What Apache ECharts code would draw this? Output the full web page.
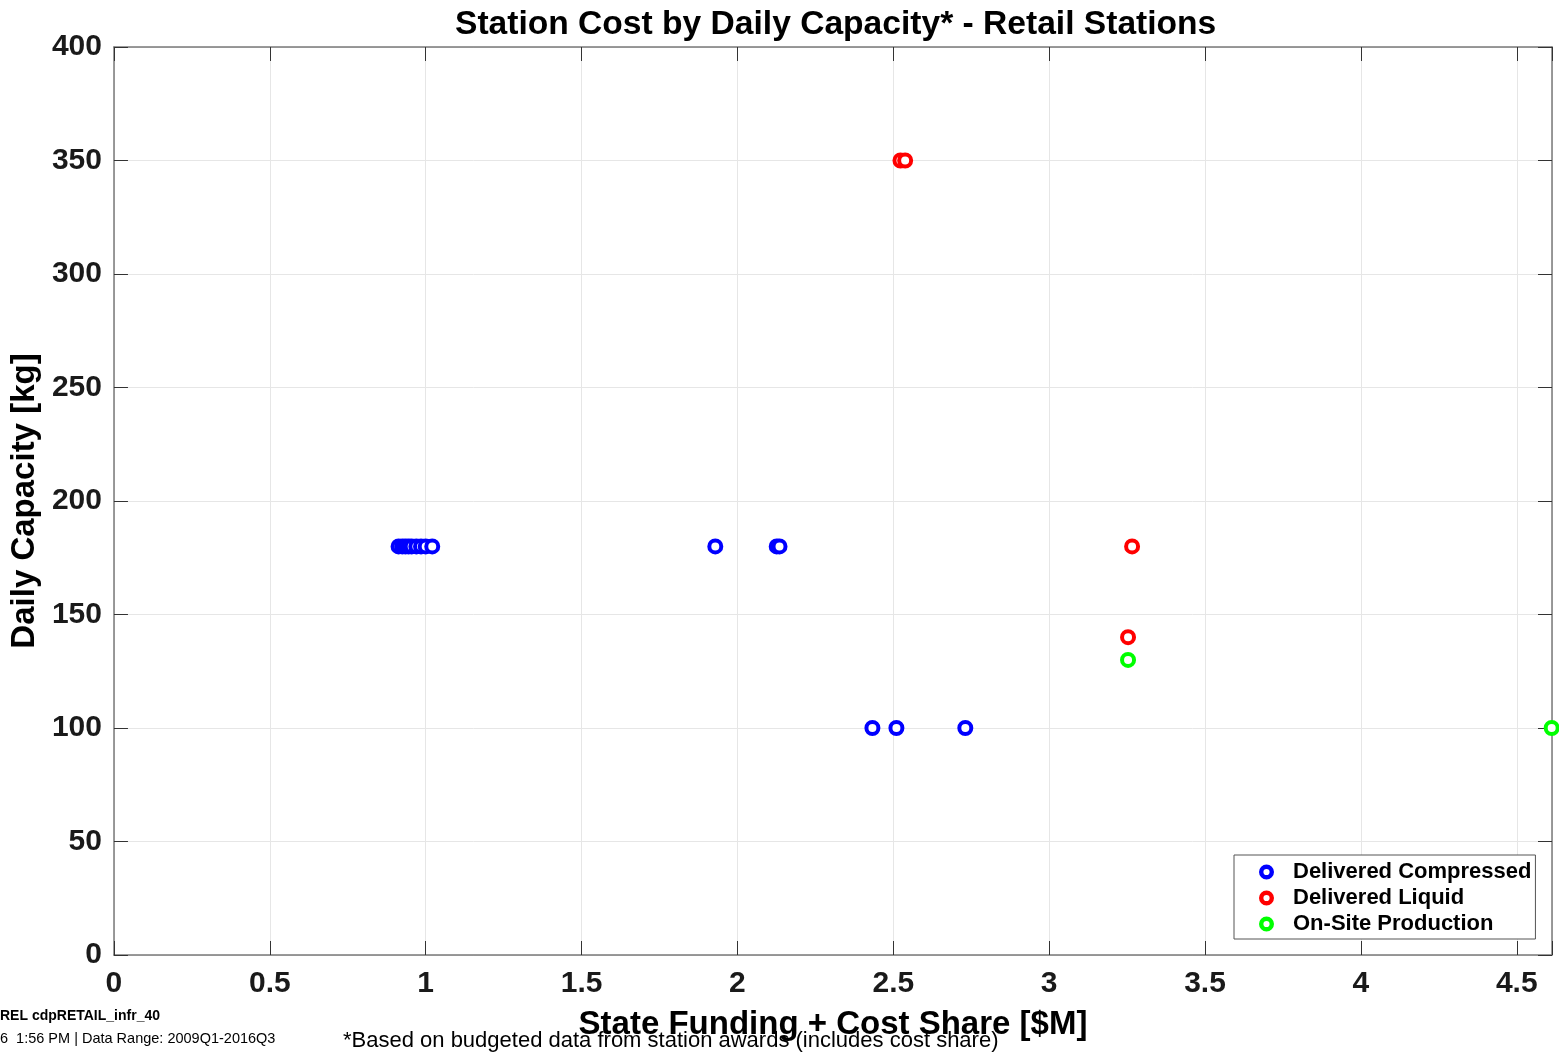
<!DOCTYPE html>
<html>
<head>
<meta charset="utf-8">
<script src="https://cdn.jsdelivr.net/npm/echarts@6/dist/echarts.min.js"></script>
<style>html,body{margin:0;padding:0;background:#fff}#c{width:1559px;height:1052px}</style>
</head>
<body>
<div id="c"></div>
<script>
const seriesNames = ['Delivered Compressed', 'Delivered Liquid', 'On-Site Production'];
const seriesColors = ['#0000ff', '#ff0000', '#00ff00'];
const compressedX = [0.913, 0.925, 0.935, 0.945, 0.955, 0.97, 0.985, 1.0, 1.021, 1.929, 2.126, 2.135, 2.433, 2.510, 2.731];
const compressedY = [180, 180, 180, 180, 180, 180, 180, 180, 180, 180, 180, 180, 100, 100, 100];
const liquidX = [2.523, 2.538, 3.266, 3.253];
const liquidY = [350, 350, 180, 140];
const onsiteX = [3.253, 4.612];
const onsiteY = [130, 100];
const xTicks = [0, 0.5, 1, 1.5, 2, 2.5, 3, 3.5, 4, 4.5];
const yTicks = [0, 50, 100, 150, 200, 250, 300, 350, 400];
const xMax = 4.613;

const pairs = (xs, ys) => xs.map((x, i) => [x, ys[i]]);
const allData = [pairs(compressedX, compressedY), pairs(liquidX, liquidY), pairs(onsiteX, onsiteY)];

const FONT = '"Liberation Sans", Arial, sans-serif';
const RING = 'path://M0,8 A8,8 0 1,1 16,8 A8,8 0 1,1 0,8 Z M4.7,8 A3.3,3.3 0 1,0 11.3,8 A3.3,3.3 0 1,0 4.7,8 Z';
const chart = echarts.init(document.getElementById('c'), null, {renderer: 'canvas'});

const fmtX = v => {
  const hit = xTicks.find(t => Math.abs(t - v) < 1e-6);
  return hit === undefined ? '' : String(hit);
};

chart.setOption({
  animation: false,
  backgroundColor: '#fff',
  title: {
    text: 'Station Cost by Daily Capacity* - Retail Stations',
    left: 450, top: 3,
    textStyle: {fontFamily: FONT, fontWeight: 'bold', fontSize: 33.6, color: '#000'}
  },
  grid: {left: 113, right: 7, top: 47, bottom: 97, containLabel: false},
  legend: {
    orient: 'vertical',
    left: 1234, top: 855,
    data: seriesNames.map((n, i) => ({name: n, icon: RING, itemStyle: {color: seriesColors[i], borderWidth: 0}})),
    itemWidth: 15, itemHeight: 15, itemGap: 0,
    padding: [4, 4, 2, 25],
    borderColor: '#555', borderWidth: 1, backgroundColor: '#fff',
    textStyle: {fontFamily: FONT, fontWeight: 'bold', fontSize: 22, color: '#000', lineHeight: 26, padding: [0, 0, 0, 14]}
  },
  xAxis: [{
    type: 'value', min: 0, max: xMax, interval: 0.5,
    name: 'State Funding + Cost Share [$M]', nameLocation: 'middle', nameGap: 53,
    nameTextStyle: {fontFamily: FONT, fontWeight: 'bold', fontSize: 33, color: '#000'},
    axisLine: {show: true, onZero: false, lineStyle: {color: '#7a7a7a', width: 1.5}},
    axisTick: {show: true, inside: true, length: 14, lineStyle: {color: '#333'}},
    axisLabel: {formatter: fmtX, margin: 14, fontFamily: FONT, fontWeight: 'bold', fontSize: 30, color: '#1a1a1a', showMaxLabel: true},
    splitLine: {show: true, lineStyle: {color: '#e6e6e6', width: 1}}
  }, {
    type: 'value', position: 'top', min: 0, max: xMax, interval: 0.5,
    axisLine: {show: true, onZero: false, lineStyle: {color: '#7a7a7a', width: 1.5}},
    axisTick: {show: true, inside: true, length: 14, lineStyle: {color: '#333'}},
    axisLabel: {show: false}, splitLine: {show: false}
  }],
  yAxis: [{
    type: 'value', min: 0, max: 400, interval: 50,
    name: 'Daily Capacity [kg]', nameLocation: 'middle', nameGap: 64, nameRotate: 90,
    nameTextStyle: {fontFamily: FONT, fontWeight: 'bold', fontSize: 33, color: '#000'},
    axisLine: {show: true, onZero: false, lineStyle: {color: '#7a7a7a', width: 1.5}},
    axisTick: {show: true, inside: true, length: 14, lineStyle: {color: '#333'}},
    axisLabel: {margin: 12, fontFamily: FONT, fontWeight: 'bold', fontSize: 30, color: '#1a1a1a'},
    splitLine: {show: true, lineStyle: {color: '#e6e6e6', width: 1}}
  }, {
    type: 'value', position: 'right', min: 0, max: 400, interval: 50,
    axisLine: {show: true, onZero: false, lineStyle: {color: '#7a7a7a', width: 1.5}},
    axisTick: {show: true, inside: true, length: 14, lineStyle: {color: '#333'}},
    axisLabel: {show: false}, splitLine: {show: false}
  }],
  series: seriesNames.map((n, i) => ({
    name: n, type: 'scatter', xAxisIndex: 0, yAxisIndex: 0,
    data: allData[i], symbol: 'circle', symbolSize: 12, clip: false,
    itemStyle: {color: '#fff', borderColor: seriesColors[i], borderWidth: 4, opacity: 1}
  })),
  graphic: [
    {type: 'text', left: 0, top: 1009, style: {text: 'REL cdpRETAIL_infr_40', font: 'bold 14px ' + FONT, fill: '#000'}},
    {type: 'text', left: 0, top: 1031, style: {text: '6  1:56 PM | Data Range: 2009Q1-2016Q3', font: '14.5px ' + FONT, fill: '#000'}},
    {type: 'text', left: 343, top: 1030, style: {text: '*Based on budgeted data from station awards (includes cost share)', font: '22px ' + FONT, fill: '#000'}}
  ]
});
</script>
</body>
</html>
